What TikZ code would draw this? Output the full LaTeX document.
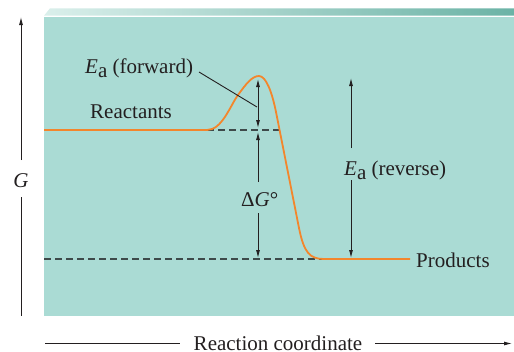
\documentclass[tikz,border=0pt]{standalone}
\usepackage{fontspec}
\setmainfont{Liberation Serif}
\newfontfamily\figfont{Liberation Serif}
\usetikzlibrary{arrows.meta}
\definecolor{panelbg}{HTML}{AADBD4}
\definecolor{curveor}{HTML}{F3862C}
\definecolor{inkdark}{HTML}{231F20}
\definecolor{dashgray}{HTML}{3E4A4A}
\definecolor{stripl}{HTML}{DAEFEB}
\definecolor{stripr}{HTML}{6BB3A6}
\newcommand{\Ea}{\textit{E}\raisebox{-4pt}{a}}

\begin{document}
\begin{tikzpicture}[x=1pt, y=-1pt, >={Latex[length=8pt,width=4pt]},
  lbl/.style={inner sep=0pt, text=inkdark, font=\figfont\fontsize{21}{25}\selectfont},
  axisline/.style={draw=inkdark, line width=0.9pt},
  levelline/.style={draw=dashgray, line width=1.2pt, dash pattern=on 7pt off 4pt}]
  \useasboundingbox (0,0) rectangle (514,351);

  % Background panel and top strip
  \shade[left color=stripl, right color=stripr] (44,15.7) -- (50,8.3) -- (514,8.3) -- (514,15.7) -- cycle;
  \fill[panelbg] (44,16.7) rectangle (514,315.5);

  % Levels and curve points
  \coordinate (rstart) at (44,130);
  \coordinate (rend) at (207,130);
  \coordinate (rdash) at (280,130);
  \coordinate (peak) at (259,76);
  \coordinate (pdash) at (44,259);
  \coordinate (pstart) at (324,259);
  \coordinate (pend) at (410,259);

  % Dashed levels
  \draw[levelline] (rend) -- (rdash);
  \draw[levelline] (pdash) -- (pstart);

  % Energy curve
  \draw[curveor, line width=1.8pt] (rstart) -- (rend)
    .. controls (222,130) and (230,106) .. (238,95)
    .. controls (246,84) and (252,76) .. (peak)
    .. controls (266,76) and (272,92) .. (276,112)
    -- (299,228)
    .. controls (304,253) and (310,259) .. (pstart) -- (pend);

  % Labels
  \node[lbl, anchor=base west] (fwdlabel) at (85,73) {\Ea\ (forward)};
  \node[lbl, anchor=base west] (reactlabel) at (90,118) {Reactants};
  \node[lbl, anchor=base west] (prodlabel) at (416,267) {Products};
  \node[lbl, anchor=base west] (revlabel) at (344,175) {\Ea\ (reverse)};
  \node[lbl, anchor=base west] (dglabel) at (241,206) {Δ\textit{G}°};
  \node[lbl, anchor=base] (glabel) at (21,187) {\textit{G}};
  \node[lbl, anchor=base] (rclabel) at (278,350) {Reaction coordinate};

  % Ea (forward)
  \coordinate (fwdtop) at (258,79);
  \coordinate (fwdbot) at (258,128);
  \coordinate (leadstart) at (199,72);
  \coordinate (leadend) at (257,107);
  \draw[axisline, <->] (fwdtop) -- (fwdbot);
  \draw[axisline] (leadstart) -- (leadend);

  % Delta G
  \coordinate (dgtop) at (258,132);
  \coordinate (dgbot) at (258,258);
  \coordinate (dggapt) at (258,182);
  \coordinate (dggapb) at (258,213);
  \draw[axisline, ->] (dggapt) -- (dgtop);
  \draw[axisline, ->] (dggapb) -- (dgbot);

  % Ea (reverse)
  \coordinate (revtop) at (351,78);
  \coordinate (revbot) at (351,258);
  \coordinate (revgapt) at (351,148);
  \coordinate (revgapb) at (351,180);
  \draw[axisline, ->] (revgapt) -- (revtop);
  \draw[axisline, ->] (revgapb) -- (revbot);

  % Axes
  \coordinate (gbot) at (21,316);
  \coordinate (gtop) at (21,17);
  \coordinate (ggapt) at (21,160);
  \coordinate (ggapb) at (21,197);
  \draw[axisline, ->] (ggapt) -- (gtop);
  \draw[axisline] (ggapb) -- (gbot);

  \coordinate (xleft) at (45,343.5);
  \coordinate (xright) at (512,343.5);
  \coordinate (xgapl) at (180,343.5);
  \coordinate (xgapr) at (375,343.5);
  \draw[axisline] (xleft) -- (xgapl);
  \draw[axisline, ->] (xgapr) -- (xright);
\end{tikzpicture}
\end{document}
